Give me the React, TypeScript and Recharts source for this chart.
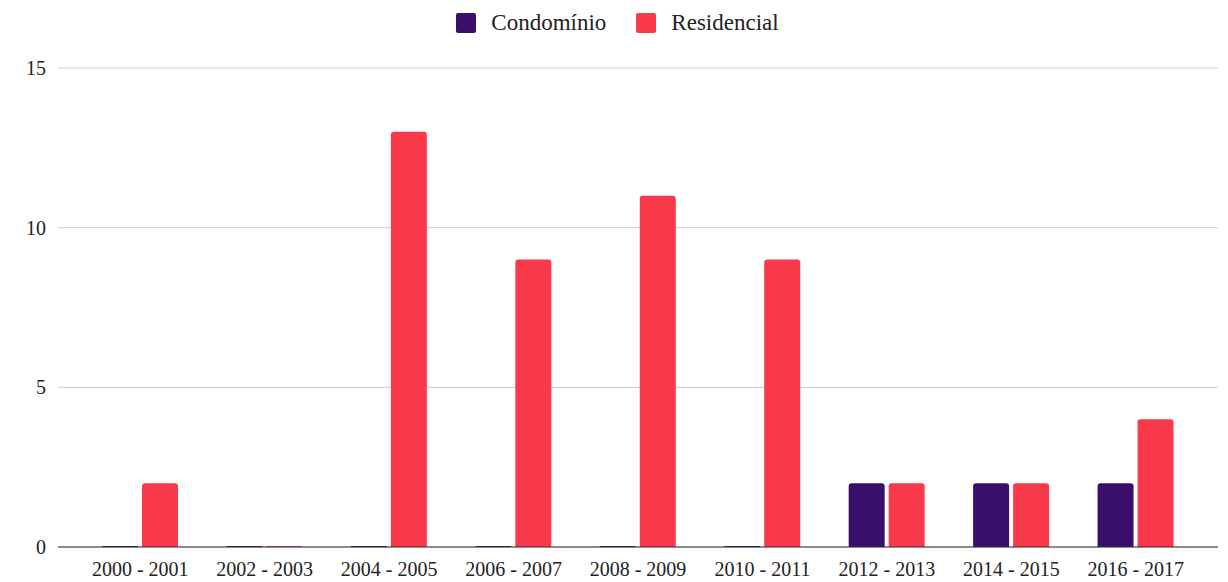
import { Bar, BarChart, CartesianGrid, Legend, XAxis, YAxis } from "recharts";

const periods = [
  "2000 - 2001",
  "2002 - 2003",
  "2004 - 2005",
  "2006 - 2007",
  "2008 - 2009",
  "2010 - 2011",
  "2012 - 2013",
  "2014 - 2015",
  "2016 - 2017",
];
const condominio = [0, 0, 0, 0, 0, 0, 2, 2, 2];
const residencial = [2, 0, 13, 9, 11, 9, 2, 2, 4];
const yTicks = [0, 5, 10, 15];

const chartData = periods.map((period, i) => ({
  period,
  condominio: condominio[i],
  residencial: residencial[i],
}));

const font = "'Liberation Serif', 'Times New Roman', serif";

function ChartLegend({ payload }: any) {
  return (
    <div
      style={{
        display: "flex",
        justifyContent: "center",
        alignItems: "center",
        gap: 30,
        paddingLeft: 17,
      }}
    >
      {(payload || []).map((item: any) => (
        <div key={item.value} style={{ display: "flex", alignItems: "center" }}>
          <span
            style={{
              display: "inline-block",
              width: 20,
              height: 20,
              borderRadius: 2,
              background: item.color,
              marginRight: 15,
            }}
          />
          <span style={{ color: "#222222", fontSize: 23, fontFamily: font }}>{item.value}</span>
        </div>
      ))}
    </div>
  );
}

export default function App() {
  return (
    <div style={{ position: "absolute", left: 0, top: 0, fontFamily: font }}>
      <BarChart
        width={1228}
        height={582}
        data={chartData}
        margin={{ top: 38, right: 10, bottom: 5, left: 0 }}
        barGap={4}
        barSize={36}
      >
        <CartesianGrid vertical={false} stroke="#cccccc" />
        <XAxis
          dataKey="period"
          padding={{ left: 20, right: 20 }}
          axisLine={{ stroke: "#333333" }}
          tickLine={false}
          tickMargin={9}
          tick={{ fill: "#222222", fontSize: 20, fontFamily: font }}
          height={30}
        />
        <YAxis
          domain={[0, 15]}
          ticks={yTicks}
          axisLine={false}
          tickLine={false}
          tickMargin={6}
          width={58}
          tick={{ fill: "#222222", fontSize: 20, fontFamily: font }}
        />
        <Legend
          verticalAlign="top"
          align="center"
          height={30}
          content={ChartLegend}
          wrapperStyle={{ top: 10 }}
        />
        <Bar
          dataKey="condominio"
          name="Condomínio"
          fill="#3a0f6b"
          radius={[3, 3, 0, 0]}
          minPointSize={1}
          isAnimationActive={false}
        />
        <Bar
          dataKey="residencial"
          name="Residencial"
          fill="#fa3a4a"
          radius={[3, 3, 0, 0]}
          minPointSize={1}
          isAnimationActive={false}
        />
      </BarChart>
    </div>
  );
}
